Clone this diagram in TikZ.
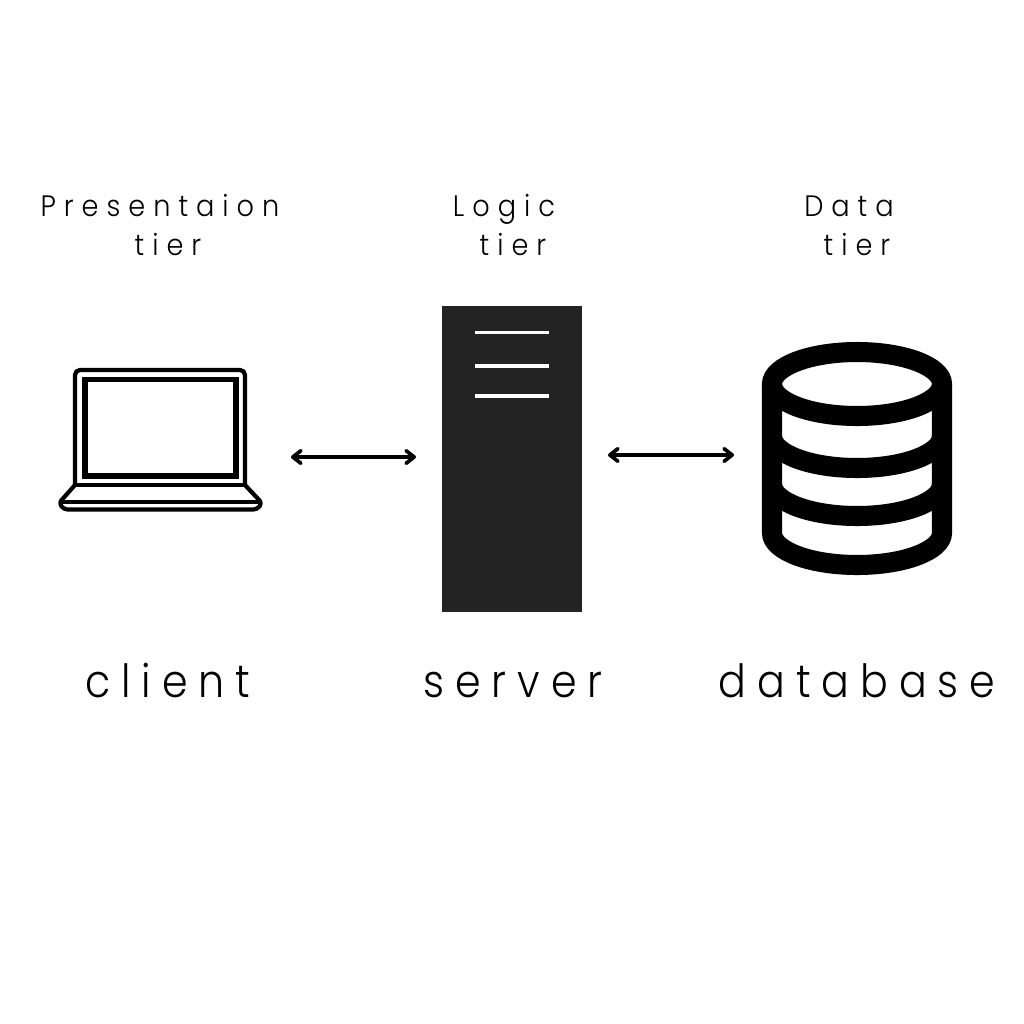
\documentclass[tikz,border=0pt]{standalone}
\usepackage{fontspec}
\usepackage{xcolor}
\usepackage{tikz}
\usetikzlibrary{arrows.meta}
\setmainfont{Poppins Light}
\newfontfamily\tierfont[LetterSpace=27,FakeStretch=.92]{Poppins Light}
\newfontfamily\namefont[LetterSpace=24,FakeStretch=.9]{Poppins Light}
\definecolor{serverfill}{HTML}{232323}
\tikzset{
  tierlabel/.style = {anchor = base, inner sep = 0pt, font = \tierfont\fontsize{8.4}{10}\selectfont},
  namelabel/.style = {anchor = base, inner sep = 0pt, font = \namefont\fontsize{13}{16}\selectfont},
  link/.style = {{Straight Barb[length=2.3pt,width=3.6pt,round]}-{Straight Barb[length=2.3pt,width=3.6pt,round]}, line width = 1.05pt, line cap = round},
  laptopline/.style = {line width = 1.2pt, line join = round},
  barrel/.style = {line width = 5.7pt},
  rackline/.style = {white, line width = 1pt}
}
\begin{document}
\begin{tikzpicture}[x = .01cm, y = .01cm]
  \useasboundingbox (0, 0) rectangle (1024, -1024);
  \node[tierlabel] at (160, -216) (presentation) {Presentaion};
  \node[tierlabel] at (168, -255) (presentationtier) {tier};
  \node[tierlabel] at (504, -216) (logic) {Logic};
  \node[tierlabel] at (513, -255) (logictier) {tier};
  \node[tierlabel] at (849, -216) (data) {Data};
  \node[tierlabel] at (857, -255) (datatier) {tier};
  \node[namelabel] at (168, -697) (client) {client};
  \node[namelabel] at (513, -697) (server) {server};
  \node[namelabel] at (857, -697) (database) {database};
  % laptop
  \draw[laptopline, rounded corners = 1.4pt] (75, -485) -- (75, -370) -- (245, -370) -- (245, -485);
  \draw[line width = 1.5pt] (85, -379.5) rectangle (236, -476);
  \draw[laptopline] (75, -485) -- (245, -485);
  \draw[laptopline, rounded corners = 1pt] (75, -485) -- (59, -503) -- (64, -509.5) -- (257, -509.5) -- (262, -503) -- (245, -485);
  \draw[laptopline] (61, -502) -- (260, -502);
  % server rack
  \fill[serverfill] (442, -306) rectangle (582, -612);
  \foreach \y in {332.5, 366, 396}
  {
  \draw[rackline] (475, -\y) -- (549, -\y);
  }
  % database
  \draw[barrel] (857, -384) ellipse (85 and 32);
  \draw[barrel] (772, -384) -- (772, -533) arc (180:360:85 and 32) -- (942, -384);
  \foreach \y in {436, 484}
  {
  \draw[barrel] (772, -\y) arc (180:360:85 and 32);
  }
  % links
  \coordinate (clientport) at (291, -457);
  \coordinate (serverleft) at (416, -457);
  \coordinate (serverright) at (608, -455);
  \coordinate (dataport) at (734, -455);
  \draw[link] (clientport) -- (serverleft);
  \draw[link] (serverright) -- (dataport);
\end{tikzpicture}
\end{document}
